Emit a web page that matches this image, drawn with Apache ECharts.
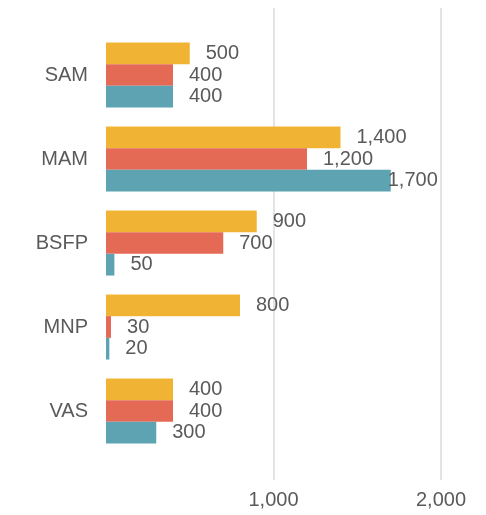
<!DOCTYPE html>
<html>
<head>
<meta charset="utf-8">
<script src="https://cdn.jsdelivr.net/npm/echarts@6/dist/echarts.min.js"></script>
<style>
  html, body { margin: 0; padding: 0; background: #ffffff; }
  #chart { width: 486px; height: 515px; }
</style>
</head>
<body>
<div id="chart"></div>
<script>
const categories = ['SAM', 'MAM', 'BSFP', 'MNP', 'VAS'];
const seriesA = [500, 1400, 900, 800, 400];
const seriesB = [400, 1200, 700, 30, 400];
const seriesC = [400, 1700, 50, 20, 300];
const xTicks = [1000, 2000];

const colors = ['#F0B334', '#E46A56', '#5DA3B2'];
const textColor = '#5a5a5a';
const font = 'Liberation Sans, Arial, sans-serif';
const fontSize = 20;

const chart = echarts.init(document.getElementById('chart'));

const fmt = v => v.toLocaleString('en-US');

// labels that would run past the plot get pulled back a little
const makeData = values => values.map(v => {
  if (v >= 1600) return { value: v, label: { offset: [-19, 0] } };
  return v;
});

const makeSeries = (values, i) => ({
  type: 'bar',
  xAxisIndex: 1,
  yAxisIndex: 1,
  data: makeData(values),
  barWidth: 21.7,
  barGap: '0%',
  itemStyle: { color: colors[i] },
  label: {
    show: true,
    position: 'right',
    distance: 16,
    color: textColor,
    fontSize: fontSize,
    fontFamily: font,
    formatter: p => fmt(p.value),
  },
  silent: true,
});

const option = {
  backgroundColor: '#ffffff',
  animation: false,
  grid: [
    { left: 106, right: 11.5, top: 8, bottom: 35 },
    { left: 106, right: 11.5, top: 33, bottom: 62 },
  ],
  xAxis: [
    {
      gridIndex: 0,
      type: 'value',
      min: 0,
      max: 2200,
      interval: 1000,
      axisLine: { show: false },
      axisTick: { show: false },
      splitLine: {
        show: true,
        showMinLine: false,
        showMaxLine: false,
        lineStyle: { color: '#e4e4e4', width: 2 },
      },
      axisLabel: {
        color: textColor,
        fontSize: fontSize,
        fontFamily: font,
        margin: 10,
        showMinLabel: false,
        showMaxLabel: false,
        formatter: v => (xTicks.includes(v) ? fmt(v) : ''),
      },
    },
    {
      gridIndex: 1,
      type: 'value',
      min: 0,
      max: 2200,
      show: false,
      splitLine: { show: false },
    },
  ],
  yAxis: [
    {
      gridIndex: 0,
      type: 'value',
      show: false,
      splitLine: { show: false },
    },
    {
      gridIndex: 1,
      type: 'category',
      inverse: true,
      data: categories,
      axisLine: { show: false },
      axisTick: { show: false },
      axisLabel: {
        color: textColor,
        fontSize: fontSize,
        fontFamily: font,
        margin: 18,
      },
    },
  ],
  series: [seriesA, seriesB, seriesC].map(makeSeries),
};

chart.setOption(option);
</script>
</body>
</html>
